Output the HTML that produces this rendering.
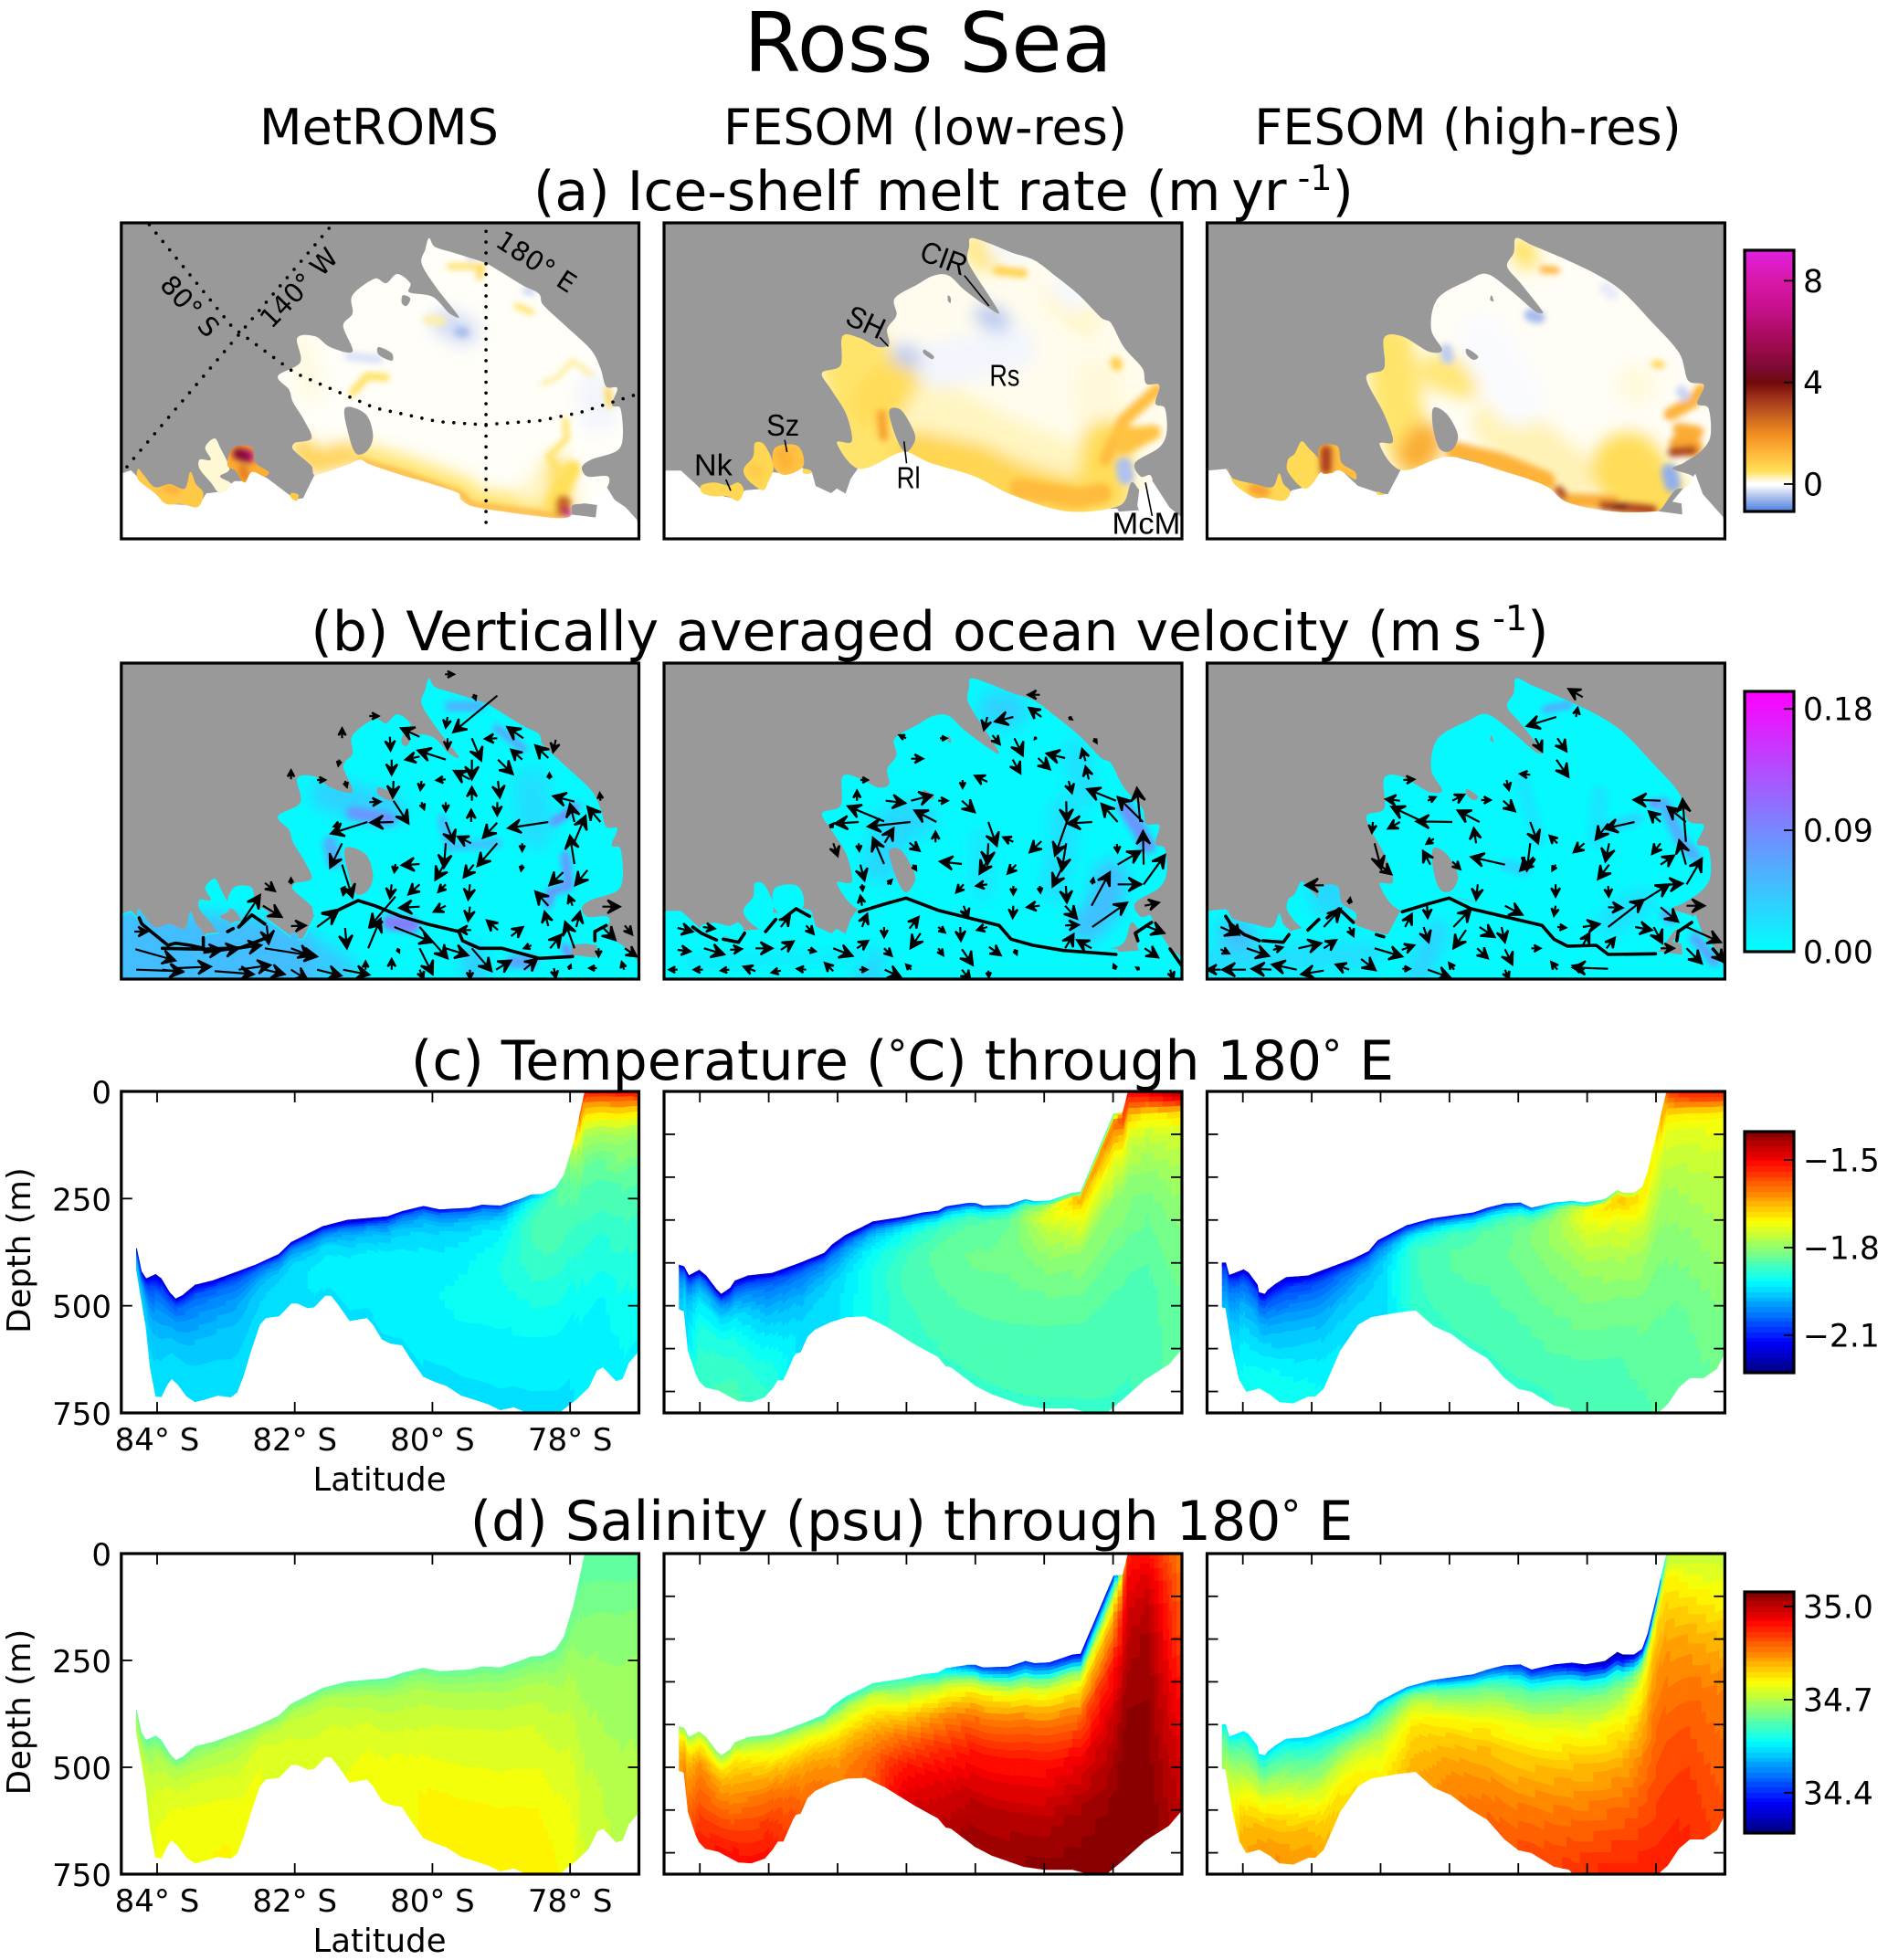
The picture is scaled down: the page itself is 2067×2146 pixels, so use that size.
<!DOCTYPE html>
<html lang="en">
<head>
<meta charset="utf-8">
<title>Ross Sea</title>
<style>
html,body{margin:0;padding:0;background:#fff}
svg{display:block}
text{font-family:"DejaVu Sans","Liberation Sans",sans-serif;fill:#000}
</style>
</head>
<body>
<svg id="figure" xmlns="http://www.w3.org/2000/svg" width="2067" height="2146" viewBox="0 0 2067 2146">
<defs>
<filter id="blur-narrow" x="-20%" y="-20%" width="140%" height="140%"><feGaussianBlur stdDeviation="3.4"/></filter>
<filter id="blur-wide" x="-20%" y="-20%" width="140%" height="140%"><feGaussianBlur stdDeviation="9"/></filter>
</defs>
<rect width="2067" height="2146" fill="#fff"/>
<text x="1016" y="78" font-size="90" text-anchor="middle">Ross Sea</text>
<text x="415" y="158" font-size="54" text-anchor="middle">MetROMS</text>
<text x="1013" y="158" font-size="54" text-anchor="middle">FESOM (low-res)</text>
<text x="1607" y="158" font-size="54" text-anchor="middle">FESOM (high-res)</text>
<text x="1033" y="230" font-size="60" text-anchor="middle">(a) Ice-shelf melt rate (m&#8201;yr<tspan dy="-22" font-size="38"> -1</tspan><tspan dy="22">)</tspan></text>
<text x="1018" y="712" font-size="60" text-anchor="middle">(b) Vertically averaged ocean velocity (m&#8201;s<tspan dy="-22" font-size="38"> -1</tspan><tspan dy="22">)</tspan></text>
<text x="988" y="1182" font-size="60" text-anchor="middle">(c) Temperature (<tspan dy="-12" font-size="44">°</tspan><tspan dy="12">C) through 180</tspan><tspan dy="-12" font-size="44">°</tspan><tspan dy="12"> E</tspan></text>
<text x="998" y="1686" font-size="60" text-anchor="middle">(d) Salinity (psu) through 180<tspan dy="-12" font-size="44">°</tspan><tspan dy="12"> E</tspan></text>
</svg>
<script>
/* ===== section axes ===== */
const latLimits=[-84.52,-77];
const depthLimits=[0,750];
const latTicksLabelled=[-84,-82,-80,-78];
const latTicksAll=[-84,-83,-82,-81,-80,-79,-78];
const latTickLabels=["84° S","82° S","80° S","78° S"];
const depthTicksLabelled=[0,250,500,750];
const depthTicksAll=[100,200,300,400,500,600,700];
const meltBarTicks=[8,4,0];
const velocityBarTicks=[0.18,0.09,0];
const velocityBarLabels=["0.18","0.09","0.00"];
const tempBarTicks=[-1.5,-1.8,-2.1];
const tempBarLabels=["−1.5","−1.8","−2.1"];
const salinityBarTicks=[35,34.7,34.4];
const salinityBarLabels=["35.0","34.7","34.4"];

/* ===== ice-draft and seabed profiles along 180 E ===== */
const iceLatRoms=[-84.3,-84.23,-84.16,-84.02,-83.94,-83.82,-83.73,-83.63,-83.45,-83.18,-82.87,-82.57,-82.23,-82.05,-81.59,-81.23,-80.65,-80.44,-80.13,-79.89,-79.46,-79.28,-79.01,-78.73,-78.56,-78.4,-78.21,-78.09,-77.94,-77.79,-77.76,-77];
const iceDepthRoms=[366,420,437,427,437,469,484,476,452,441,423,405,380,352,315,300,292,280,268,276,272,265,267,252,241,240,225,196,117,4,0,0];
const bedLatRoms=[-84.3,-84.16,-84.1,-84.02,-83.94,-83.85,-83.79,-83.7,-83.57,-83.45,-83.3,-83.12,-82.93,-82.84,-82.75,-82.63,-82.51,-82.42,-82.23,-82.05,-81.96,-81.81,-81.72,-81.56,-81.47,-81.38,-81.2,-80.95,-80.86,-80.73,-80.62,-80.44,-80.32,-80.13,-79.95,-79.8,-79.58,-79.4,-79.19,-79.01,-78.82,-78.58,-78.18,-77.91,-77.73,-77.61,-77.52,-77.33,-77.24,-77.15,-77];
const bedDepthRoms=[416,551,644,711,712,683,670,683,711,724,718,709,713,702,665,601,544,528,524,494,494,505,503,476,476,494,535,528,544,578,587,592,622,665,678,686,709,718,729,743,736,752,752,718,690,650,643,675,670,633,605];

const iceLatLow=[-84.3,-84.23,-84.16,-84.01,-83.91,-83.76,-83.69,-83.56,-83.49,-83.3,-82.95,-82.54,-82.19,-82.08,-81.89,-81.62,-81.49,-81.08,-80.76,-80.54,-80.43,-80.11,-80,-79.89,-79.52,-79.27,-79.14,-78.92,-78.59,-78.47,-77.99,-77.86,-77.78,-77];
const iceDepthLow=[405,409,430,417,430,462,473,459,442,430,424,400,377,358,336,315,304,294,283,279,269,261,261,267,265,252,257,255,237,235,52,50,0,0];
const bedLatLow=[-84.3,-84.23,-84.17,-84.06,-84.01,-83.92,-83.73,-83.57,-83.44,-83.25,-83.06,-82.95,-82.87,-82.79,-82.65,-82.61,-82.54,-82.44,-82.33,-82.11,-81.87,-81.6,-81.3,-80.87,-80.54,-80.43,-80.35,-80,-79.76,-79.3,-79,-78.59,-78.38,-78.08,-77.86,-77.54,-77.19,-77];
const bedDepthLow=[508,512,604,658,675,690,697,711,722,724,713,693,673,673,622,611,608,572,555,538,526,524,547,590,619,640,643,686,706,732,739,739,748,747,718,672,636,600];

const iceLatHigh=[-84.3,-84.25,-84.2,-83.99,-83.92,-83.79,-83.77,-83.68,-83.64,-83.53,-83.37,-83.05,-82.4,-82.17,-82.04,-81.62,-81.26,-80.65,-80.45,-80.2,-79.97,-79.81,-79.48,-79.22,-79.03,-78.74,-78.56,-78.48,-78.32,-78.2,-78.12,-77.99,-77.85,-77.83,-77];
const iceDepthHigh=[400,400,429,416,423,451,469,473,464,450,434,430,391,373,348,313,297,283,272,262,260,272,260,256,260,252,231,237,237,224,188,100,4,0,0];
const bedLatHigh=[-84.3,-84.25,-84.15,-84.05,-83.95,-83.76,-83.6,-83.47,-83.27,-83.05,-82.95,-82.83,-82.59,-82.33,-82.14,-81.75,-81.49,-81.23,-80.97,-80.71,-80.45,-80.2,-80,-79.81,-79.48,-79.26,-79.19,-77.99,-77.83,-77.67,-77.51,-77.31,-77.12,-77];
const bedDepthHigh=[503,505,601,672,700,692,707,724,727,711,711,693,604,544,526,515,510,547,565,597,622,668,693,700,732,739,752,752,729,690,668,668,647,610];

/* ===== section fields: rows = fieldLats, columns = fieldLevels (fraction of water column) ===== */
const fieldLats=[-84.3,-84,-83.5,-83,-82.5,-82,-81.5,-81,-80.5,-80,-79.5,-79,-78.5,-78,-77.8,-77.5,-77];
const fieldLevels=[0,0.03,0.08,0.15,0.3,0.5,0.75,1];

const tempRoms=[
[-2.2,-2.15,-2.12,-2.1,-2.05,-2,-1.97,-1.96],
[-2.18,-2.12,-2.08,-2.04,-2,-1.97,-1.95,-1.94],
[-2.18,-2.12,-2.06,-2.03,-2,-1.97,-1.95,-1.94],
[-2.18,-2.1,-2.05,-2.02,-1.99,-1.96,-1.95,-1.94],
[-2.16,-2.1,-2.05,-2.02,-1.98,-1.96,-1.95,-1.94],
[-2.17,-2.12,-2.05,-2.01,-1.96,-1.94,-1.94,-1.94],
[-2.18,-2.12,-2.05,-2,-1.95,-1.93,-1.93,-1.94],
[-2.18,-2.12,-2.03,-1.98,-1.94,-1.92,-1.93,-1.94],
[-2.16,-2.06,-2,-1.96,-1.93,-1.92,-1.92,-1.94],
[-2.15,-2.03,-1.98,-1.95,-1.93,-1.92,-1.93,-1.94],
[-2.13,-2.02,-1.97,-1.94,-1.92,-1.91,-1.93,-1.94],
[-2.1,-2,-1.95,-1.92,-1.9,-1.91,-1.93,-1.94],
[-1.98,-1.9,-1.87,-1.86,-1.87,-1.9,-1.93,-1.94],
[-1.8,-1.82,-1.84,-1.85,-1.87,-1.9,-1.93,-1.94],
[-1.52,-1.6,-1.7,-1.78,-1.85,-1.88,-1.92,-1.93],
[-1.5,-1.6,-1.7,-1.78,-1.85,-1.88,-1.92,-1.93],
[-1.5,-1.58,-1.7,-1.78,-1.84,-1.87,-1.9,-1.92]];
const tempLow=[
[-2.18,-2.14,-2.1,-2.07,-2.03,-2,-1.98,-1.97],
[-2.18,-2.1,-2.03,-1.98,-1.93,-1.9,-1.88,-1.87],
[-2.18,-2.12,-2.05,-2,-1.94,-1.9,-1.87,-1.86],
[-2.18,-2.1,-2.05,-2.02,-1.98,-1.94,-1.9,-1.88],
[-2.17,-2.12,-2.07,-2.03,-2,-1.97,-1.95,-1.95],
[-2.17,-2.13,-2.07,-2.02,-1.98,-1.95,-1.94,-1.94],
[-2.18,-2.1,-2.02,-1.97,-1.92,-1.9,-1.9,-1.9],
[-2.16,-2.05,-1.95,-1.9,-1.87,-1.86,-1.87,-1.87],
[-2.14,-2,-1.9,-1.86,-1.84,-1.85,-1.86,-1.87],
[-2.1,-1.95,-1.86,-1.84,-1.83,-1.84,-1.86,-1.87],
[-2.05,-1.9,-1.84,-1.83,-1.83,-1.84,-1.86,-1.87],
[-1.95,-1.78,-1.74,-1.77,-1.81,-1.84,-1.86,-1.87],
[-1.9,-1.64,-1.7,-1.74,-1.8,-1.84,-1.86,-1.87],
[-1.9,-1.6,-1.65,-1.72,-1.8,-1.84,-1.86,-1.87],
[-1.5,-1.55,-1.66,-1.74,-1.8,-1.84,-1.86,-1.87],
[-1.48,-1.55,-1.7,-1.76,-1.81,-1.84,-1.86,-1.86],
[-1.42,-1.5,-1.68,-1.74,-1.78,-1.81,-1.83,-1.84]];
const tempHigh=[
[-2.18,-2.14,-2.1,-2.08,-2.05,-2.03,-2,-1.98],
[-2.18,-2.12,-2.07,-2.03,-1.98,-1.95,-1.92,-1.91],
[-2.18,-2.13,-2.08,-2.05,-2,-1.96,-1.92,-1.9],
[-2.18,-2.12,-2.07,-2.04,-2,-1.96,-1.93,-1.91],
[-2.18,-2.12,-2.07,-2.03,-2,-1.97,-1.95,-1.94],
[-2.17,-2.1,-2.05,-2.01,-1.97,-1.95,-1.95,-1.95],
[-2.15,-2.07,-2,-1.92,-1.87,-1.87,-1.87,-1.88],
[-2.14,-2.03,-1.93,-1.87,-1.85,-1.85,-1.86,-1.87],
[-2.13,-2,-1.9,-1.85,-1.84,-1.85,-1.86,-1.87],
[-2.1,-1.95,-1.85,-1.83,-1.83,-1.84,-1.86,-1.87],
[-1.98,-1.85,-1.8,-1.79,-1.81,-1.83,-1.85,-1.87],
[-1.95,-1.72,-1.72,-1.75,-1.79,-1.82,-1.85,-1.86],
[-1.8,-1.66,-1.7,-1.74,-1.78,-1.82,-1.85,-1.86],
[-1.72,-1.72,-1.72,-1.75,-1.79,-1.82,-1.84,-1.85],
[-1.55,-1.6,-1.7,-1.74,-1.78,-1.81,-1.84,-1.85],
[-1.52,-1.58,-1.7,-1.74,-1.77,-1.8,-1.83,-1.84],
[-1.52,-1.58,-1.7,-1.73,-1.76,-1.78,-1.81,-1.83]];
const saltRoms=[
[34.62,34.63,34.64,34.65,34.66,34.68,34.69,34.7],
[34.63,34.65,34.67,34.69,34.71,34.73,34.74,34.74],
[34.64,34.66,34.68,34.7,34.72,34.74,34.75,34.75],
[34.65,34.67,34.69,34.7,34.72,34.74,34.75,34.76],
[34.65,34.67,34.68,34.7,34.72,34.73,34.74,34.74],
[34.64,34.66,34.67,34.69,34.71,34.72,34.73,34.73],
[34.63,34.65,34.67,34.69,34.71,34.72,34.73,34.73],
[34.63,34.65,34.67,34.69,34.71,34.73,34.74,34.75],
[34.63,34.65,34.67,34.69,34.71,34.73,34.75,34.75],
[34.64,34.66,34.68,34.7,34.72,34.74,34.76,34.76],
[34.64,34.66,34.68,34.7,34.72,34.74,34.76,34.77],
[34.64,34.66,34.68,34.7,34.72,34.74,34.76,34.77],
[34.64,34.66,34.68,34.7,34.72,34.74,34.76,34.77],
[34.64,34.65,34.66,34.68,34.7,34.72,34.74,34.75],
[34.63,34.635,34.64,34.65,34.67,34.69,34.71,34.72],
[34.63,34.635,34.64,34.65,34.67,34.68,34.7,34.71],
[34.63,34.635,34.64,34.65,34.67,34.68,34.69,34.7]];
const saltLow=[
[34.66,34.67,34.7,34.72,34.76,34.79,34.81,34.82],
[34.68,34.7,34.74,34.78,34.84,34.87,34.9,34.93],
[34.66,34.68,34.72,34.77,34.81,34.85,34.9,34.95],
[34.65,34.67,34.71,34.74,34.8,34.86,34.91,34.94],
[34.63,34.65,34.69,34.72,34.77,34.82,34.85,34.87],
[34.6,34.62,34.65,34.69,34.74,34.79,34.83,34.85],
[34.6,34.63,34.67,34.72,34.77,34.82,34.87,34.88],
[34.6,34.63,34.67,34.71,34.79,34.87,34.94,34.98],
[34.56,34.6,34.68,34.74,34.84,34.91,34.97,35],
[34.42,34.52,34.68,34.77,34.87,34.94,35,35.03],
[34.4,34.48,34.64,34.75,34.87,34.94,35,35.03],
[34.4,34.48,34.64,34.74,34.86,34.94,35,35.04],
[34.36,34.46,34.66,34.76,34.87,34.96,35.02,35.04],
[34.38,34.58,34.72,34.82,34.93,34.99,35.03,35.05],
[34.93,34.93,34.95,34.97,35,35.03,35.05,35.05],
[34.94,34.95,34.97,34.99,35.02,35.03,35.04,35.05],
[34.85,34.85,34.86,34.87,34.88,34.93,34.97,35]];
const saltHigh=[
[34.55,34.56,34.58,34.6,34.62,34.64,34.66,34.68],
[34.55,34.57,34.6,34.63,34.68,34.74,34.8,34.82],
[34.54,34.56,34.59,34.62,34.68,34.75,34.81,34.84],
[34.53,34.55,34.58,34.61,34.66,34.73,34.8,34.83],
[34.52,34.54,34.57,34.6,34.66,34.72,34.76,34.78],
[34.5,34.53,34.57,34.6,34.65,34.7,34.74,34.76],
[34.47,34.55,34.62,34.68,34.74,34.78,34.8,34.82],
[34.44,34.5,34.6,34.66,34.74,34.79,34.83,34.85],
[34.44,34.5,34.6,34.66,34.74,34.8,34.84,34.87],
[34.4,34.46,34.57,34.64,34.73,34.79,34.85,34.89],
[34.36,34.44,34.56,34.64,34.73,34.8,34.86,34.9],
[34.32,34.4,34.56,34.65,34.74,34.81,34.87,34.92],
[34.3,34.38,34.55,34.66,34.75,34.82,34.88,34.93],
[34.4,34.6,34.76,34.8,34.84,34.87,34.9,34.93],
[34.7,34.72,34.76,34.78,34.83,34.87,34.9,34.93],
[34.71,34.72,34.74,34.77,34.82,34.87,34.9,34.92],
[34.71,34.72,34.73,34.75,34.8,34.85,34.87,34.89]];

/* ===== map data: polar-stereographic grid units per model ===== */
const meltStops=[[-1.08,"#4a80e0"],[-0.8,"#7a9ee6"],[-0.4,"#c0cdf0"],[-0.05,"#ffffff"],[0.05,"#fffef8"],[0.2,"#fff6c8"],[0.5,"#ffe05a"],[1.2,"#ffb83a"],[2,"#f08a20"],[2.8,"#c05a20"],[3.4,"#a0301a"],[4,"#700a0a"],[4.5,"#7a0a30"],[5.5,"#a00a50"],[7,"#c81090"],[8,"#d818a8"],[9.2,"#e020e0"]];

const shelfRoms=[
{v:0.05,p:[905,122,920,150,965,168,1010,185,1058,205,1100,235,1160,280,1200,305,1210,340,1280,420,1340,490,1365,550,1380,610,1410,615,1395,670,1418,680,1425,770,1410,820,1340,850,1315,875,1330,905,1385,905,1380,945,1330,990,1290,1000,1285,1035,1250,1042,1130,1025,1020,1003,990,980,985,960,900,925,830,900,745,865,720,850,690,865,600,900,590,870,540,815,545,795,590,780,570,720,540,660,530,620,500,575,560,530,552,450,600,445,640,480,700,495,675,410,700,370,700,310,760,255,790,270,820,240,855,270,852,300,915,315,960,370,985,380,925,285,885,205,895,160]},
{v:0.9,p:[125,880,140,900,170,940,210,930,250,945,265,890,280,930,300,960,285,1005,240,995,200,995,170,960,125,915]},
{v:0.16,p:[330,780,345,810,370,880,345,905,375,930,345,960,320,925,290,880,290,850,320,850,305,810]},
{v:1.4,p:[370,830,390,805,430,810,440,860,475,890,465,905,430,890,410,925,385,885,365,870]},
{v:0.9,p:[535,960,555,965,550,985,535,975]}];
const holesRoms=[[680,680,735,700,755,770,740,820,710,830,690,770],[835,310,855,320,845,345,832,335],[770,480,805,500,805,525,770,505]];
const landRoms=[80,1110,80,900,105,890,125,915,170,960,200,1000,290,1005,310,965,345,960,385,925,410,925,430,890,470,915,545,985,570,980,600,905,690,865,720,850,745,865,830,900,900,925,985,960,990,980,1020,1003,1130,1025,1250,1042,1290,1035,1355,1045,1360,995,1330,990,1380,945,1400,985,1430,1010,1460,1050,1468,1110];
const meltPatchesRoms=[
{v:0.45,w:26,p:[730,840,830,875,990,945,1030,985,1250,1020]},
{v:0.2,w:26,p:[1250,860,1180,960]},
{v:0.8,w:24,p:[560,810,600,860,690,830]},
{v:0.55,w:24,p:[1250,880,1260,1000]},
{v:0.5,w:18,p:[1290,880,1240,990]},
{v:0.12,w:30,p:[560,480,590,620]},
{v:-0.3,w:30,p:[950,400,1000,430]},
{v:-0.12,w:40,p:[1350,620,1360,700]},
{v:1.4,w:6,p:[720,855,830,893,990,962,1020,998,1250,1035]},
{v:0.55,w:6,p:[1050,215,960,215]},
{v:0.7,w:7,p:[1045,215,1040,250]},
{v:0.5,w:6,p:[1140,345,1180,365]},
{v:0.4,w:4,p:[1210,600,1250,580,1290,525,1340,570]},
{v:0.5,w:6,p:[1270,720,1275,780,1225,840,1250,880]},
{v:0.5,w:8,p:[700,630,740,575,790,580]},
{v:0.3,w:9,p:[900,390,940,395]},
{v:0.7,w:7,p:[1385,620,1390,670]},
{v:-0.55,w:10,p:[985,430,1000,432]},
{v:-0.35,w:8,p:[1015,180,1020,185]},
{v:-0.35,w:8,p:[1165,295,1180,300]},
{v:-0.25,w:10,p:[690,510,770,520]},
{v:2.6,w:16,p:[1265,990,1265,1015]},
{v:6,w:6,p:[1270,1010,1280,1030]},
{v:8,w:4,p:[1275,1030,1285,1032]},
{v:4.8,w:14,p:[395,830,420,840]},
{v:7,w:4,p:[425,820,430,850]},
{v:2.2,w:10,p:[405,880,412,905]},
{v:1.4,w:8,p:[200,945,230,950]}];

const shelfLow=[
{v:0.08,p:[890,122,940,140,1000,170,1060,195,1120,250,1180,310,1240,385,1265,400,1300,480,1350,550,1360,600,1395,605,1385,665,1410,680,1415,760,1395,810,1330,860,1345,905,1370,900,1375,925,1345,950,1320,925,1290,1000,1150,1020,1000,965,900,905,780,860,720,825,690,830,590,880,530,795,570,790,555,700,515,620,490,565,540,540,545,445,590,450,640,480,670,470,665,420,690,375,685,320,745,275,790,245,830,245,870,290,930,345,965,365,895,230,880,190,885,150]},
{v:0.65,p:[165,935,200,925,240,935,265,925,280,950,265,985,235,970,200,970,170,960]},
{v:0.65,p:[310,795,335,800,360,870,345,925,330,950,290,915,280,880,305,840]},
{v:1.0,p:[365,810,425,805,440,870,390,900,360,870]},
{v:0.65,p:[440,880,460,885,460,895,440,895]}];
const holesLow=[[670,690,700,685,730,740,740,785,715,825,690,780],[828,310,835,318,835,335,828,328],[765,488,790,510,785,520,762,500]];
const landLow=[66,1110,66,890,110,890,150,935,170,960,265,985,285,955,330,950,355,895,390,900,425,875,460,895,470,940,515,965,530,950,555,968,570,915,590,880,690,830,720,825,780,860,900,905,1000,965,1150,1020,1280,1015,1285,1025,1345,1020,1340,1000,1345,950,1375,925,1420,1010,1450,1040,1456,1110];
const meltPatchesLow=[
{v:0.45,w:80,p:[565,490,600,590,590,700,610,820]},
{v:0.55,w:60,p:[700,600,640,660]},
{v:0.22,w:70,p:[800,700,950,800,1150,900]},
{v:0.14,w:60,p:[1230,600,1240,720]},
{v:0.7,w:50,p:[740,830,900,870,1000,930,1150,985,1260,960]},
{v:0.55,w:55,p:[1255,800,1240,950]},
{v:0.4,w:30,p:[900,150,930,190]},
{v:0.2,w:30,p:[1120,320,1200,400]},
{v:-0.12,w:50,p:[1000,480,800,540]},
{v:-0.1,w:30,p:[1140,290,1170,320]},
{v:-0.1,w:24,p:[960,150,1010,180]},
{v:-0.45,w:24,p:[930,375,965,395]},
{v:-0.4,w:24,p:[705,505,730,515]},
{v:1.6,w:10,p:[650,700,655,775]},
{v:1.15,w:22,p:[1020,945,1180,975,1240,960]},
{v:1.1,w:14,p:[1390,620,1300,720,1250,850]},
{v:1.0,w:16,p:[1290,770,1380,760,1300,810]},
{v:0.75,w:10,p:[960,228,1030,238]},
{v:0.8,w:12,p:[1278,530,1282,540]},
{v:-0.5,w:18,p:[1300,870,1305,905]},
{v:1.3,w:16,p:[385,830,395,860]},
{v:0.9,w:12,p:[305,880,320,890]}];

const shelfHigh=[
{v:0.06,p:[735,122,770,145,850,195,920,245,975,300,1040,400,1100,500,1120,590,1155,605,1140,665,1165,680,1170,770,1150,820,1110,860,1085,880,1130,905,1115,940,1090,950,1060,1010,1045,1020,950,1020,850,990,800,935,700,885,585,840,480,885,430,800,460,790,440,700,400,580,440,550,440,450,480,445,540,495,570,490,545,420,560,320,630,260,670,240,720,290,780,365,795,365,745,270,715,215,730,170]},
{v:0.65,p:[90,875,100,910,150,930,190,940,205,895,215,930,230,955,215,985,170,975,150,975,105,930]},
{v:0.6,p:[255,790,270,810,295,850,300,880,265,945,225,890,225,850,240,830]},
{v:1.1,p:[295,810,335,805,345,860,375,890,375,915,340,885,320,895,300,890]},
{v:0.65,p:[425,955,440,965,425,965]}];
const holesHigh=[[550,680,580,700,605,770,590,820,565,815,550,750],[680,310,685,330,677,325],[625,485,650,510,640,522,625,505]];
const landHigh=[44,1110,44,890,85,885,105,930,150,975,215,985,235,955,262,945,300,895,340,885,380,940,430,965,450,968,480,885,585,840,700,885,800,935,850,990,950,1020,1045,1022,1110,1035,1108,990,1090,985,1115,940,1135,905,1150,965,1195,1040,1202,1110];
const meltPatchesHigh=[
{v:0.45,w:55,p:[450,470,460,560,470,700,510,830]},
{v:0.42,w:40,p:[560,560,620,590]},
{v:0.25,w:60,p:[700,730,850,900]},
{v:0.14,w:40,p:[1000,600,1010,610]},
{v:0.55,w:80,p:[985,880,1040,1000]},
{v:-0.08,w:60,p:[660,460,740,650]},
{v:1.4,w:40,p:[510,830,530,790]},
{v:1.3,w:22,p:[600,825,700,860,800,920]},
{v:3.0,w:10,p:[830,950,850,985]},
{v:1.4,w:16,p:[860,985,950,990]},
{v:3.2,w:10,p:[930,1000,1040,1015]},
{v:4.2,w:7,p:[955,1000,975,1005]},
{v:1.3,w:14,p:[1150,620,1130,660,1080,700]},
{v:1.4,w:14,p:[1100,750,1140,760]},
{v:1.5,w:22,p:[1100,800,1130,810]},
{v:3.2,w:10,p:[1085,825,1130,820]},
{v:3.2,w:12,p:[310,820,310,880]},
{v:1.3,w:8,p:[795,225,825,228]},
{v:0.5,w:24,p:[745,150,760,190]},
{v:0.7,w:8,p:[1045,535,1060,538]},
{v:-0.55,w:14,p:[768,375,785,382]},
{v:-0.4,w:14,p:[578,490,582,515]},
{v:-0.65,w:18,p:[1078,890,1085,930]},
{v:-0.18,w:14,p:[935,285,950,305]},
{v:-0.35,w:12,p:[1105,625,1112,640]},
{v:1.6,w:14,p:[150,945,170,955]}];

/* graticule and annotations (MetROMS and FESOM low-res grids) */
const meridian180=[1058,100,1058,1080];
const meridian140=[637,90,100,865,85,892];
const parallel80=[155,78,378,415,545,565,760,680,930,725,1050,735,1200,722,1310,695,1455,638];
const graticuleLabelText=["180° E","140° W","80° S"];
const graticuleLabelX=[1190,560,260];
const graticuleLabelY=[205,290,350];
const graticuleLabelAngle=[33,-46,47.5];
const shelfLabelText=["CIR","SH","Rs","Nk","Sz","Rl","McM"];
const shelfLabelX=[815,605,980,198,385,722,1360];
const shelfLabelY=[195,405,582,875,745,918,1068];
const shelfLabelAngle=[20,25,0,0,0,0,0];
const shelfLabelWidth=[52,43,33,42,36,26,75];
const leaderLines=[[872,245,938,345],[645,448,668,478],[390,785,396,825],[232,915,245,952],[710,790,717,862],[1358,925,1376,1035]];

/* ===== velocity: [x,y,u,v] per model ===== */
const velocityRoms=[[1088,155,-118,120],[948,85,24,0],[745,222,25,0],[1025,150,5,18],[955,225,-5,35],[880,290,-50,-28],[800,290,2,45],[955,295,0,35],[1020,295,25,73],[1088,295,-33,2],[1158,295,-43,-37],[1245,300,-7,40],[672,295,0,-33],[950,365,-75,-30],[880,355,-38,10],[805,365,0,50],[665,365,-3,20],[1225,360,-35,-42],[1155,365,-30,-33],[1090,365,40,48],[1020,365,0,65],[1015,430,-43,-28],[950,430,-25,3],[885,435,-3,30],[810,435,-2,55],[680,435,5,20],[605,432,22,0],[535,430,0,-30],[1020,500,0,-45],[1090,435,5,55],[1295,503,-57,-18],[1228,430,0,-20],[745,505,30,-2],[885,505,7,23],[950,505,0,30],[1088,505,0,43],[1365,500,-2,-25],[810,500,40,75],[1018,570,0,-40],[1225,570,-108,20],[810,570,-62,2],[740,570,-98,38],[670,575,-20,10],[950,570,22,70],[1088,572,-38,50],[1295,570,-12,-60],[1365,570,-35,-50],[1295,635,30,-85],[1295,708,-12,-93],[1018,640,-36,-22],[950,640,-5,80],[950,700,-28,60],[1088,640,-53,75],[1025,710,-27,42],[880,708,-48,4],[815,708,-3,27],[1155,640,0,25],[1155,710,-3,20],[672,640,-32,80],[672,710,28,108],[680,780,-5,30],[1265,735,-37,43],[1330,728,-33,50],[1225,845,-35,-47],[880,775,-30,33],[950,775,-20,25],[1015,775,-5,50],[805,775,-5,45],[1290,845,-10,-33],[1370,848,47,0],[880,848,-55,4],[950,845,-32,20],[1015,848,-5,47],[815,815,-70,100],[742,985,33,-97],[1225,912,-10,-47],[1300,915,10,-50],[1090,925,-30,-32],[1125,945,32,-30],[1295,985,-25,-87],[1230,985,30,-45],[1018,925,-33,0],[812,915,103,50],[880,915,75,103],[950,985,60,23],[1020,985,53,75],[880,985,35,85],[680,918,5,67],[820,985,5,13],[1370,915,35,43],[1430,910,20,30],[1430,985,32,27],[1360,985,0,27],[1180,975,-20,10],[1085,1055,40,-30],[1160,1055,35,-35],[1240,1050,5,32],[1355,1050,-20,0],[1428,1055,-6,-25],[1280,1055,5,-15],[735,1055,0,-27],[805,1055,0,-35],[1015,1055,0,30],[880,1055,10,30],[395,915,57,-105],[460,845,50,37],[535,912,40,-2],[465,770,27,27],[535,775,0,-20],[605,915,55,-50],[118,988,107,37],[120,1055,125,5],[300,1000,95,-15],[400,985,55,-10],[465,985,140,27],[535,985,55,25],[395,1055,85,-15],[230,1050,90,-5],[330,1060,105,10],[465,1055,53,15],[535,1055,45,35],[605,1055,65,20],[675,1055,70,17],[115,930,35,0],[300,995,50,-5],[470,910,5,60],[190,1055,55,8]];
const velocityLow=[[1130,122,-35,0],[1135,195,-37,-30],[1052,195,-54,15],[975,195,-10,43],[990,255,22,30],[1055,265,25,57],[1050,335,23,45],[1205,330,-55,-15],[1125,330,35,37],[1120,260,-5,8],[1290,265,8,15],[1215,195,10,8],[1265,340,-10,-40],[1275,400,-10,-42],[1215,405,10,40],[735,265,-20,-10],[835,265,20,0],[750,332,35,0],[600,402,22,0],[590,470,0,-33],[675,470,58,8],[750,470,62,-18],[830,470,28,0],[975,408,-37,-20],[902,402,0,26],[900,470,38,38],[670,538,-107,-50],[595,540,-70,5],[510,560,10,-15],[748,540,-126,15],[825,540,-65,-38],[672,608,26,-48],[822,607,0,-35],[670,678,-33,-86],[520,610,13,42],[595,610,2,25],[745,608,30,27],[900,678,-65,-8],[978,540,25,78],[1052,605,-30,-15],[1135,603,-35,37],[978,610,-3,70],[985,650,-33,60],[1060,680,-25,30],[1208,472,2,68],[1285,540,-73,5],[1210,540,-35,110],[1208,610,-13,90],[1200,680,-32,72],[1360,540,-48,-60],[1355,470,-85,-38],[1435,540,-75,-82],[1427,540,-10,-112],[1437,680,-2,-110],[1360,680,68,-45],[1437,745,63,-97],[1360,745,70,0],[1283,815,54,-110],[1285,885,103,-80],[1358,612,2,28],[1285,745,3,-20],[1440,815,42,-10],[1207,750,3,55],[1205,815,35,43],[1205,880,40,-2],[1205,955,25,-47],[1283,955,-43,-27],[1130,815,-38,5],[1052,815,-2,40],[1052,750,0,28],[1130,750,2,22],[975,745,-33,5],[905,745,-22,27],[905,815,13,40],[745,890,27,-38],[778,905,-30,50],[670,885,0,33],[605,885,15,-43],[605,815,-5,-33],[605,745,2,20],[600,680,12,52],[680,745,13,-15],[755,680,10,18],[830,885,20,18],[895,885,2,45],[975,885,-30,10],[590,955,33,-25],[440,880,22,28],[365,885,27,-40],[60,888,45,12],[135,885,35,5],[60,960,38,5],[138,955,60,20],[215,960,35,-3],[290,955,50,0],[365,960,38,-28],[445,960,23,5],[520,955,57,25],[670,955,23,25],[830,955,15,23],[900,958,32,52],[980,950,35,28],[1055,958,7,17],[1440,955,40,30],[1440,880,58,25],[60,1025,-25,0],[135,1025,-27,0],[213,1025,-25,3],[290,1030,-35,-15],[365,1028,-27,7],[440,1025,-27,-3],[520,1030,-25,-27],[597,1025,23,0],[672,1025,48,25],[750,1025,-15,-17],[900,1025,25,35],[978,1028,2,22],[1355,1025,-7,-17],[1425,1025,-10,-7],[1515,1025,10,30]];
const velocityHigh=[[1130,130,-42,-27],[1052,195,-87,30],[1110,195,5,-30],[990,265,20,43],[1055,265,27,43],[1052,335,36,57],[975,385,-30,-3],[905,402,7,33],[895,470,35,35],[830,468,28,0],[745,470,35,-20],[600,402,32,-2],[590,470,-42,-5],[672,470,23,-12],[650,535,-85,-45],[745,540,-107,-2],[825,540,-65,-38],[590,540,-35,22],[510,540,-3,35],[515,610,20,85],[530,680,35,32],[690,595,-22,17],[815,610,-7,-50],[680,680,-22,-45],[745,670,23,25],[900,680,-100,-25],[975,540,23,70],[975,610,-10,90],[985,655,-40,45],[1055,610,-23,-25],[1135,610,-32,30],[1283,540,-88,22],[1205,545,-37,53],[1360,470,-80,-3],[1360,540,-35,-35],[1435,540,-55,-50],[1435,605,-10,-140],[1435,680,-20,-80],[1360,680,40,-30],[1437,745,45,-85],[1205,885,105,-90],[1285,815,100,-70],[1350,750,75,-8],[1208,610,-11,60],[1208,680,-33,48],[1360,610,-25,35],[1205,750,2,35],[1205,820,43,2],[1050,680,-10,20],[1050,745,0,40],[1050,815,-5,33],[900,815,52,30],[820,745,-5,50],[748,885,52,-60],[605,885,20,-43],[670,815,2,40],[660,885,15,50],[785,895,-37,60],[825,885,45,33],[890,885,10,50],[818,955,32,33],[900,958,22,50],[595,960,37,-15],[515,955,82,27],[290,955,67,-17],[365,955,37,-27],[365,885,50,-60],[440,885,13,30],[137,955,66,25],[215,960,28,-8],[60,885,52,25],[60,958,25,14],[90,875,25,35],[365,748,-55,0],[440,810,3,-20],[475,990,43,37],[1130,885,50,-10],[1130,945,20,-40],[1200,955,25,-35],[1055,885,25,2],[1285,885,50,10],[1340,885,25,53],[1360,820,52,48],[1437,815,53,0],[1360,955,40,0],[1437,885,101,50],[1437,955,45,50],[978,955,27,0],[1205,1022,-105,-4],[1135,1025,-35,-13],[1055,1025,-18,-25],[285,1025,-73,-17],[210,1025,-58,-3],[135,1025,-70,0],[60,1025,-40,0],[365,1028,-67,12],[440,1025,-40,-17],[672,1025,68,27],[597,1022,23,0],[750,1025,-15,-22],[1515,957,33,43],[900,1025,12,30]];

const frontRoms=[[128,885,135,905,205,975,225,968,265,975,300,985],[190,985,300,988,400,983,470,950],[365,930,380,920],[395,915,430,875,465,905],[300,985,300,950],[620,870,660,860,715,828,760,845,830,880,900,905,985,930,995,960,1040,985,1100,985,1200,1018,1290,1012],[1350,960,1350,930,1380,910]];
const frontLow=[[105,885,130,905,175,928],[195,925,240,935,258,905],[320,900,350,860],[375,855,410,825,450,850],[597,835,670,810,735,790,830,830,920,855,1010,880,1045,925,1110,945,1200,962,1355,975],[1420,930,1412,905,1460,870],[1515,957,1548,1010]];
const frontHigh=[[75,850,90,875,130,910,175,930],[185,930,245,935,262,910],[318,895,350,860],[375,855,410,825,452,870],[520,910,542,917],[597,835,670,810,735,790,800,825,1010,880,1045,925,1085,948,1170,945,1205,975,1345,973],[1408,930,1412,900,1452,870],[1515,957,1548,1000]];

const speedPatchesRoms=[
{v:0.05,w:100,p:[90,1000,500,1040]},
{v:0.025,w:40,p:[1180,450,1190,600]},
{v:0.04,w:30,p:[620,1010,680,1060]},
{v:0.04,w:24,p:[1020,1000,1030,1080]},
{v:0.035,w:36,p:[630,480,800,530]},
{v:0.06,w:16,p:[640,640,650,700]},
{v:0.08,w:14,p:[700,540,800,560]},
{v:0.09,w:9,p:[1240,570,1300,520]},
{v:0.08,w:10,p:[1270,680,1280,780,1230,800,1225,840]},
{v:0.1,w:16,p:[800,900,860,910]},
{v:0.05,w:10,p:[940,560,960,650,1090,640]},
{v:0.08,w:7,p:[1160,330,1085,260]},
{v:0.06,w:11,p:[960,190,1040,190]},
{v:0.07,w:14,p:[1130,1030,1180,1030]},
{v:0.11,w:7,p:[1270,980,1280,1005]}];
const speedPatchesLow=[
{v:0.05,w:36,p:[1340,720,1320,820,1270,880]},
{v:0.03,w:40,p:[660,680,700,540,770,530]},
{v:0.025,w:30,p:[1200,500,1200,600,1170,760]},
{v:0.025,w:26,p:[1230,310,1270,450]},
{v:0.03,w:30,p:[640,1000,620,1050]},
{v:0.012,w:20,p:[100,1000,600,980]},
{v:0.02,w:26,p:[960,600,960,760]},
{v:0.035,w:40,p:[1000,170,1040,175]},
{v:0.08,w:16,p:[1450,620,1420,560,1380,490]}];
const speedPatchesHigh=[
{v:0.025,w:30,p:[20,1000,500,975]},
{v:0.05,w:30,p:[90,905,130,920]},
{v:0.025,w:30,p:[1210,870,1300,800]},
{v:0.03,w:46,p:[380,770,385,790]},
{v:0.035,w:26,p:[700,900,640,1050]},
{v:0.018,w:20,p:[1180,450,1170,600]},
{v:0.018,w:16,p:[950,400,1000,600]},
{v:0.07,w:8,p:[1020,170,1090,155]},
{v:0.11,w:9,p:[1340,480,1365,482]},
{v:0.06,w:14,p:[1370,480,1420,600,1460,650]},
{v:0.07,w:11,p:[1375,845,1390,860]},
{v:0.07,w:11,p:[1460,920,1520,1000]},
{v:0.03,w:14,p:[1290,530,1200,560]},
{v:0.03,w:14,p:[900,680,960,700]}];

/* ===== figure geometry ===== */
const NS="http://www.w3.org/2000/svg";
const figure=document.getElementById("figure");
const columnSpans=[[132.8,699.5],[727,1294],[1321.5,1888.4]];
const columnKeys=["metroms","fesom-low-res","fesom-high-res"];
const rowA=[244,590], rowB=[726,1072], rowC=[1195,1547], rowD=[1701,2052];
const meltExtentX=[[80,1468],[66,1456],[44,1202]];
const meltExtentY=[72,1110];
const speedExtentX=[[80,1468],[20,1550],[20,1550]];
const speedExtentY=[[48,1086],[18,1056],[18,1056]];

function el(tag,attrs,parent){
  const node=document.createElementNS(NS,tag);
  for(const k in attrs){node.setAttribute(k,attrs[k]);}
  (parent||figure).appendChild(node);
  return node;
}
function scale(dom,rng){return v=>rng[0]+(v-dom[0])/(dom[1]-dom[0])*(rng[1]-rng[0]);}
function clamp01(v){return Math.max(0,Math.min(1,v));}
function hex2(v){return Math.round(v).toString(16).padStart(2,"0");}
function rgb(r,g,b){return "#"+hex2(r)+hex2(g)+hex2(b);}
function jet(t){
  t=clamp01(t);
  return rgb(255*clamp01(1.5-Math.abs(4*t-3)),255*clamp01(1.5-Math.abs(4*t-2)),255*clamp01(1.5-Math.abs(4*t-1)));
}
function meltColor(v){
  const s=meltStops;
  if(v<=s[0][0])return s[0][1];
  for(let i=1;i<s.length;i++){
    if(v<=s[i][0]){
      const f=(v-s[i-1][0])/(s[i][0]-s[i-1][0]);
      const a=s[i-1][1],b=s[i][1];
      const c=p=>parseInt(a.substr(p,2),16)*(1-f)+parseInt(b.substr(p,2),16)*f;
      return rgb(c(1),c(3),c(5));
    }
  }
  return s[s.length-1][1];
}
const speedMax=0.193;
function speedColor(v){const t=clamp01(v/speedMax);return rgb(255*t,255*(1-t),255);}
const tempRange=[-2.228,-1.403];
const saltRange=[34.27,35.047];
function quant(t){return (Math.floor(clamp01(t)*47.999)+0.5)/48;}
function interp(xs,ys,x){
  if(x<=xs[0])return ys[0];
  for(let i=1;i<xs.length;i++){
    if(x<=xs[i]){return ys[i-1]+(ys[i]-ys[i-1])*(x-xs[i-1])/(xs[i]-xs[i-1]);}
  }
  return ys[ys.length-1];
}
function fieldAt(field,lat,frac){
  const rows=field.map(r=>interp(fieldLevels,r,frac));
  return interp(fieldLats,rows,lat);
}
function ptsString(p,fx,fy){
  const out=[];
  for(let i=0;i<p.length;i+=2){out.push(fx(p[i]).toFixed(1)+","+fy(p[i+1]).toFixed(1));}
  return out.join(" ");
}
function smoothPath(p,fx,fy){
  const pts=[];
  for(let i=0;i<p.length;i+=2){pts.push([fx(p[i]),fy(p[i+1])]);}
  const n=pts.length;
  const f=v=>v.toFixed(1);
  const limited=(a,b,seg)=>{
    const dx=(b[0]-a[0])/6,dy=(b[1]-a[1])/6,len=Math.hypot(dx,dy)||1,m=Math.min(1,seg*0.38/len);
    return [dx*m,dy*m];
  };
  let d="M"+f(pts[0][0])+" "+f(pts[0][1]);
  for(let i=0;i<n;i++){
    const p0=pts[(i-1+n)%n],p1=pts[i],p2=pts[(i+1)%n],p3=pts[(i+2)%n];
    const seg=Math.hypot(p2[0]-p1[0],p2[1]-p1[1]);
    const t1=limited(p0,p2,seg),t2=limited(p1,p3,seg);
    d+="C"+f(p1[0]+t1[0])+" "+f(p1[1]+t1[1])+" "+f(p2[0]-t2[0])+" "+f(p2[1]-t2[1])+" "+f(p2[0])+" "+f(p2[1]);
  }
  return d+"Z";
}

/* ===== map panels ===== */
let clipCount=0;
function drawFrame(x0,x1,y0,y1,parent,name){
  const frame=el("rect",{x:x0,y:y0,width:x1-x0,height:y1-y0,fill:"none",stroke:"#000","stroke-width":3.2},parent);
  
  
}
function drawPatches(patches,colorFn,fx,fy,shelfPolys,landPoly,clipFx,clipFy,parent){
  clipCount++;
  const cid="map-clip-"+clipCount;
  const defs=el("clipPath",{id:cid},parent);
  shelfPolys.forEach(p=>{el("path",{d:smoothPath(p,clipFx,clipFy)},defs);});
  if(landPoly){el("polygon",{points:ptsString(landPoly,clipFx,clipFy)},defs);}
  const clipped=el("g",{"clip-path":"url(#"+cid+")"},parent);
  const wide=el("g",{filter:"url(#blur-wide)"},clipped);
  const narrow=el("g",{filter:"url(#blur-narrow)"},clipped);
  patches.forEach(pt=>{
    const line=el("polyline",{points:ptsString(pt.p,fx,fy),fill:"none",stroke:colorFn(pt.v),"stroke-width":pt.w,"stroke-linecap":"round","stroke-linejoin":"round"},pt.w>=24?wide:narrow);
    
    
  });
}
function drawMelt(col,shelf,holes,land,patches){
  const span=columnSpans[col];
  const fx=scale(meltExtentX[col],span), fy=scale(meltExtentY,rowA);
  const g=el("g",{});
  
  
  const bg=el("rect",{x:span[0],y:rowA[0],width:span[1]-span[0],height:rowA[1]-rowA[0],fill:"#999999"},g);
  
  
  const landShape=el("polygon",{points:ptsString(land,fx,fy),fill:"#fff",stroke:"#fff","stroke-width":3},g);
  
  
  shelf.forEach(s=>{
    const poly=el("path",{d:smoothPath(s.p,fx,fy),fill:meltColor(s.v)},g);
    
    
  });
  drawPatches(patches,meltColor,fx,fy,shelf.map(s=>s.p),null,fx,fy,g);
  holes.forEach(h=>{
    const hole=el("path",{d:smoothPath(h,fx,fy),fill:"#999999"},g);
    
    
  });
  return {g,fx,fy};
}
function arrowPath(x0,y0,x1,y1){
  const dx=x1-x0,dy=y1-y0,len=Math.hypot(dx,dy)||1;
  const ux=dx/len,uy=dy/len;
  const k=Math.min(1,len/20);
  const L=14*k,W=7.5*k,N=8*k;
  const bx=x1-ux*L,by=y1-uy*L;
  const nx=x1-ux*N,ny=y1-uy*N;
  const f=v=>v.toFixed(1);
  return "M"+f(x0)+" "+f(y0)+"L"+f(nx)+" "+f(ny)+
    "M"+f(x1)+" "+f(y1)+"L"+f(bx-uy*W)+" "+f(by+ux*W)+"L"+f(nx)+" "+f(ny)+"L"+f(bx+uy*W)+" "+f(by-ux*W)+"Z";
}
function drawVelocity(col,shelf,holes,land,patches,vectors,front){
  const span=columnSpans[col];
  const mx=scale(meltExtentX[col],span), my=scale(meltExtentY,rowB);
  const fx=scale(speedExtentX[col],span), fy=scale(speedExtentY[col],rowB);
  const g=el("g",{});
  
  
  const bg=el("rect",{x:span[0],y:rowB[0],width:span[1]-span[0],height:rowB[1]-rowB[0],fill:"#999999"},g);
  
  
  const base=speedColor(0.004);
  const ocean=el("polygon",{points:ptsString(land,mx,my),fill:base,stroke:base,"stroke-width":3},g);
  
  
  shelf.forEach(s=>{
    const poly=el("path",{d:smoothPath(s.p,mx,my),fill:base},g);
    
    
  });
  drawPatches(patches,speedColor,fx,fy,shelf.map(s=>s.p),land,mx,my,g);
  holes.forEach(h=>{
    const hole=el("path",{d:smoothPath(h,mx,my),fill:"#999999"},g);
    
    
  });
  clipCount++;
  const cid="vec-clip-"+clipCount;
  const cp=el("clipPath",{id:cid},g);
  el("rect",{x:span[0],y:rowB[0],width:span[1]-span[0],height:rowB[1]-rowB[0]},cp);
  const vg=el("g",{"clip-path":"url(#"+cid+")"},g);
  front.forEach(line=>{
    const f=el("polyline",{points:ptsString(line,fx,fy),fill:"none",stroke:"#000","stroke-width":3.6,"stroke-linejoin":"round","stroke-linecap":"round"},vg);
    
    
  });
  vectors.forEach(a=>{
    const d=arrowPath(fx(a[0]),fy(a[1]),fx(a[0]+a[2]),fy(a[1]+a[3]));
    const arrow=el("path",{d:d,fill:"#000",stroke:"#000","stroke-width":2.2,"stroke-linejoin":"miter"},vg);
    
    
  });
  drawFrame(span[0],span[1],rowB[0],rowB[1],g,"panel-frame");
}

/* ===== section panels ===== */
function drawSection(col,row,field,range,iceLat,iceDepth,bedLat,bedDepth,kind){
  const span=columnSpans[col];
  const xs=scale(latLimits,span), ys=scale(depthLimits,row);
  const g=el("g",{});
  
  
  clipCount++;
  const cid="sec-clip-"+clipCount;
  const cp=el("clipPath",{id:cid},g);
  el("rect",{x:span[0],y:row[0],width:span[1]-span[0],height:row[1]-row[0]},cp);
  const cells=el("g",{"clip-path":"url(#"+cid+")"},g);
  const latSet=new Set(iceLat.concat(bedLat));
  for(let lat=iceLat[0];lat<-77;lat+=0.065){latSet.add(+lat.toFixed(3));}
  latSet.add(-77);
  const lats=[...latSet].filter(v=>v>=iceLat[0]&&v<=-77).sort((a,b)=>a-b);
  const N=28;
  const paths=new Map();
  for(let i=0;i<lats.length-1;i++){
    const a=lats[i],b=lats[i+1];
    if(b-a<1e-4)continue;
    const ta=interp(iceLat,iceDepth,a),tb=interp(iceLat,iceDepth,b);
    const ba=interp(bedLat,bedDepth,a),bb=interp(bedLat,bedDepth,b);
    const mid=(a+b)/2;
    for(let j=0;j<N;j++){
      const f0=Math.pow(j/N,1.5),f1=Math.pow((j+1)/N,1.5);
      const v=fieldAt(field,mid,(f0+f1)/2);
      const color=jet(quant((v-range[0])/(range[1]-range[0])));
      const d="M"+xs(a).toFixed(1)+" "+ys(ta+(ba-ta)*f0).toFixed(1)+
        "L"+xs(b).toFixed(1)+" "+ys(tb+(bb-tb)*f0).toFixed(1)+
        "L"+xs(b).toFixed(1)+" "+ys(tb+(bb-tb)*f1).toFixed(1)+
        "L"+xs(a).toFixed(1)+" "+ys(ta+(ba-ta)*f1).toFixed(1)+"Z";
      paths.set(color,(paths.get(color)||"")+d);
    }
  }
  paths.forEach((d,color)=>{
    const band=el("path",{d:d,fill:color,stroke:color,"stroke-width":0.7},cells);
    
    
  });
  const latTicks=col===0?latTicksLabelled:latTicksAll;
  const depthTicks=col===0?depthTicksLabelled.slice(1,3):depthTicksAll;
  latTicks.forEach(t=>{
    const top=el("line",{x1:xs(t),x2:xs(t),y1:row[0],y2:row[0]+12,stroke:"#000","stroke-width":1.8},g);
    
    
    const bot=el("line",{x1:xs(t),x2:xs(t),y1:row[1],y2:row[1]-12,stroke:"#000","stroke-width":1.8},g);
    
    
  });
  depthTicks.forEach(t=>{
    const lft=el("line",{x1:span[0],x2:span[0]+12,y1:ys(t),y2:ys(t),stroke:"#000","stroke-width":1.8},g);
    
    
    const rgt=el("line",{x1:span[1],x2:span[1]-12,y1:ys(t),y2:ys(t),stroke:"#000","stroke-width":1.8},g);
    
    
  });
  drawFrame(span[0],span[1],row[0],row[1],g,"panel-frame");
  if(col===0){
    depthTicksLabelled.forEach(t=>{
      const lab=el("text",{x:122,y:ys(t)+13,"font-size":34,"text-anchor":"end"},g);
      lab.textContent=String(t);
      
      
    });
    latTicksLabelled.forEach((t,i)=>{
      const lab=el("text",{x:xs(t),y:row[1]+41,"font-size":34,"text-anchor":"middle"},g);
      lab.textContent=latTickLabels[i];
      
      
    });
    const xl=el("text",{x:415.5,y:row[1]+85,"font-size":35.5,"text-anchor":"middle"},g);
    xl.textContent="Latitude";
    
    
    const yc=(row[0]+row[1])/2-2;
    const yl=el("text",{x:0,y:0,"font-size":35.5,"text-anchor":"middle",transform:"translate(33,"+yc+") rotate(-90)"},g);
    yl.textContent="Depth (m)";
    
    
  }
}

/* ===== colour bars ===== */
function drawBar(name,y0,y1,dom,colorFn,ticks,labels){
  const x0=1910,x1=1964,g=el("g",{});
  
  
  const ys=scale([dom[1],dom[0]],[y0,y1]);
  const steps=Math.round((y1-y0)/2);
  for(let i=0;i<steps;i++){
    const ya=y0+(y1-y0)*i/steps,yb=y0+(y1-y0)*(i+1)/steps;
    const val=dom[1]+(dom[0]-dom[1])*(i+0.5)/steps;
    const step=el("rect",{x:x0,y:ya.toFixed(1),width:x1-x0,height:(yb-ya+0.6).toFixed(1),fill:colorFn(val)},g);
    
    
  }
  ticks.forEach((t,i)=>{
    const tick=el("line",{x1:x1-11,x2:x1,y1:ys(t),y2:ys(t),stroke:"#000","stroke-width":1.8},g);
    
    
    const lab=el("text",{x:1974,y:ys(t)+12.5,"font-size":34.5},g);
    lab.textContent=labels[i];
    
    
  });
  drawFrame(x0,x1,y0,y1,g,"colorbar-frame");
}

/* ===== draw everything ===== */
const romsMelt=drawMelt(0,shelfRoms,holesRoms,landRoms,meltPatchesRoms);
[meridian180,meridian140,parallel80].forEach(line=>{
  const grat=el("polyline",{points:ptsString(line,romsMelt.fx,romsMelt.fy),fill:"none",stroke:"#000","stroke-width":3.6,"stroke-linecap":"round","stroke-dasharray":"0 11.8"},romsMelt.g);
  
  
});
graticuleLabelText.forEach((t,i)=>{
  const px=romsMelt.fx(graticuleLabelX[i]),py=romsMelt.fy(graticuleLabelY[i]);
  const lab=el("text",{x:0,y:0,"font-size":29,"text-anchor":"middle","dominant-baseline":"middle",transform:"translate("+px+","+py+") rotate("+graticuleLabelAngle[i]+")"},romsMelt.g);
  lab.textContent=t;
  
  
});
drawFrame(columnSpans[0][0],columnSpans[0][1],rowA[0],rowA[1],romsMelt.g,"panel-frame");

const lowMelt=drawMelt(1,shelfLow,holesLow,landLow,meltPatchesLow);
leaderLines.forEach(l=>{
  const lead=el("line",{x1:lowMelt.fx(l[0]),y1:lowMelt.fy(l[1]),x2:lowMelt.fx(l[2]),y2:lowMelt.fy(l[3]),stroke:"#000","stroke-width":1.6},lowMelt.g);
  
  
});
shelfLabelText.forEach((t,i)=>{
  const px=lowMelt.fx(shelfLabelX[i]),py=lowMelt.fy(shelfLabelY[i]);
  const lab=el("text",{x:0,y:0,"font-size":33,"text-anchor":"middle","dominant-baseline":"middle",textLength:shelfLabelWidth[i],lengthAdjust:"spacingAndGlyphs",style:"font-family:'Liberation Sans',sans-serif",transform:"translate("+px+","+py+") rotate("+shelfLabelAngle[i]+")"},lowMelt.g);
  lab.textContent=t;
  
  
});
drawFrame(columnSpans[1][0],columnSpans[1][1],rowA[0],rowA[1],lowMelt.g,"panel-frame");

const highMelt=drawMelt(2,shelfHigh,holesHigh,landHigh,meltPatchesHigh);
drawFrame(columnSpans[2][0],columnSpans[2][1],rowA[0],rowA[1],highMelt.g,"panel-frame");

drawVelocity(0,shelfRoms,holesRoms,landRoms,speedPatchesRoms,velocityRoms,frontRoms);
drawVelocity(1,shelfLow,holesLow,landLow,speedPatchesLow,velocityLow,frontLow);
drawVelocity(2,shelfHigh,holesHigh,landHigh,speedPatchesHigh,velocityHigh,frontHigh);

drawSection(0,rowC,tempRoms,tempRange,iceLatRoms,iceDepthRoms,bedLatRoms,bedDepthRoms,"temperature");
drawSection(1,rowC,tempLow,tempRange,iceLatLow,iceDepthLow,bedLatLow,bedDepthLow,"temperature");
drawSection(2,rowC,tempHigh,tempRange,iceLatHigh,iceDepthHigh,bedLatHigh,bedDepthHigh,"temperature");
drawSection(0,rowD,saltRoms,saltRange,iceLatRoms,iceDepthRoms,bedLatRoms,bedDepthRoms,"salinity");
drawSection(1,rowD,saltLow,saltRange,iceLatLow,iceDepthLow,bedLatLow,bedDepthLow,"salinity");
drawSection(2,rowD,saltHigh,saltRange,iceLatHigh,iceDepthHigh,bedLatHigh,bedDepthHigh,"salinity");

drawBar("melt-colorbar",274,560,[-1.08,9.2],meltColor,meltBarTicks,meltBarTicks.map(String));
drawBar("velocity-colorbar",757,1042,[0,speedMax],speedColor,velocityBarTicks,velocityBarLabels);
drawBar("temperature-colorbar",1239,1503,tempRange,v=>jet(quant((v-tempRange[0])/(tempRange[1]-tempRange[0]))),tempBarTicks,tempBarLabels);
drawBar("salinity-colorbar",1743,2007,saltRange,v=>jet(quant((v-saltRange[0])/(saltRange[1]-saltRange[0]))),salinityBarTicks,salinityBarLabels);
</script>
</body>
</html>
